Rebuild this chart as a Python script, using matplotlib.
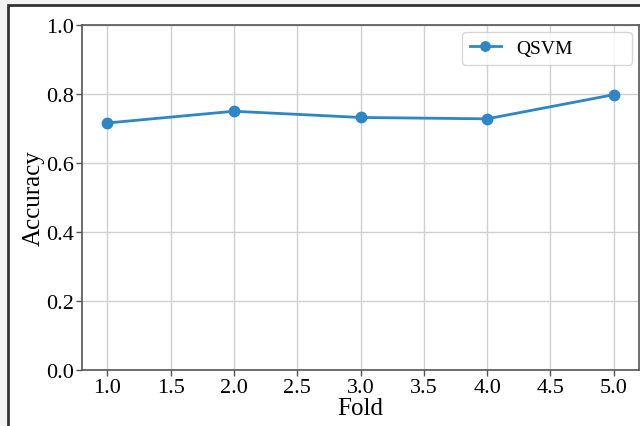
import matplotlib
matplotlib.use("Agg")
import matplotlib.pyplot as plt
from matplotlib.patches import Rectangle

# Cross-validation accuracy per fold
folds = [1, 2, 3, 4, 5]
accuracy = [0.716, 0.750, 0.732, 0.728, 0.798]
xticks = [1.0, 1.5, 2.0, 2.5, 3.0, 3.5, 4.0, 4.5, 5.0]
yticks = [0.0, 0.2, 0.4, 0.6, 0.8, 1.0]

plt.rcParams['font.family'] = ['Liberation Serif', 'DejaVu Serif']

fig = plt.figure(figsize=(6.4, 4.27), dpi=100, facecolor='#f3f3f3')

# white screenshot panel with dark frame on left and top
fig.patches.append(Rectangle((8 / 640, -0.05), 1.1, 1 - 6 / 427 + 0.05,
                             transform=fig.transFigure, facecolor='white',
                             edgecolor='#333333', linewidth=2.0, zorder=-10))

ax = fig.add_axes([82 / 640, 56 / 427, 557 / 640, 345 / 427])
ax.plot(folds, accuracy, marker='o', color='#2f86c6', linewidth=2.0,
        markersize=7.5, label='QSVM')
ax.set_ylim(0, 1.0)
ax.set_xticks(xticks)
ax.set_xticklabels([f'{t:.1f}' for t in xticks])
ax.set_yticks(yticks)
ax.set_yticklabels([f'{t:.1f}' for t in yticks])
ax.set_xlabel('Fold', fontsize=18, labelpad=0)
ax.set_ylabel('Accuracy', fontsize=18, labelpad=1)
ax.tick_params(labelsize=16, length=4, width=1, color='#555555', pad=2)
ax.grid(True, color='#d0d0d0', linewidth=1)
ax.set_axisbelow(True)
for s in ax.spines.values():
    s.set_color('#555555')
    s.set_linewidth(1.2)

# legend box is wider than its content in the original
leg = ax.legend(loc='upper left', bbox_to_anchor=(0.682, 0.98, 0.305, 0.0),
                mode='expand', borderaxespad=0, fontsize=14, frameon=True,
                fancybox=True, borderpad=0.4, handlelength=1.6,
                handletextpad=0.8, markerscale=0.9)
leg.get_frame().set_edgecolor('#cccccc')

fig.savefig('out.png', dpi=100, facecolor=fig.get_facecolor())
